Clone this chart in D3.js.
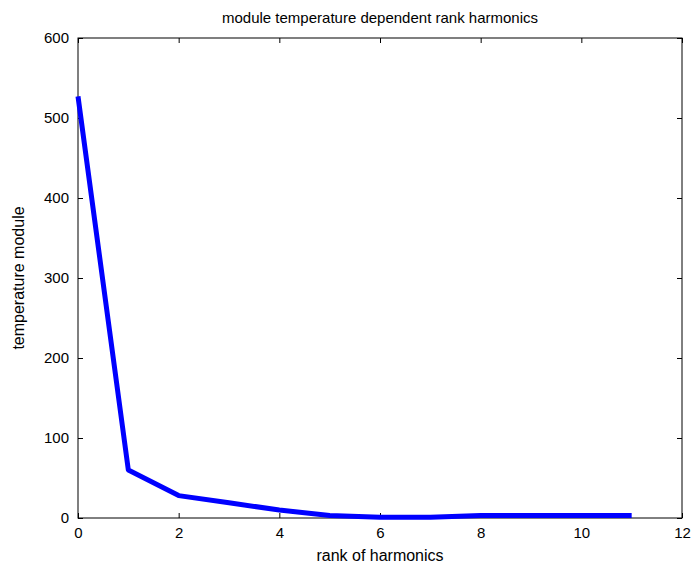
<!DOCTYPE html>
<html><head><meta charset="utf-8">
<script src="https://cdn.jsdelivr.net/npm/d3@7"></script>
<style>body{margin:0;background:#fff}text{font-family:Arial,"Liberation Sans",sans-serif}</style>
</head><body><svg id="c" width="692" height="573"></svg>
<script>
const xs=[0,1,2,3,4,5,6,7,8,9,10,11];
const ys=[527,60,28,19,10,3,1,1,3,3,3,3];
const xTicks=[0,2,4,6,8,10,12];
const yTicks=[0,100,200,300,400,500,600];
const m={l:78,r:682,t:38,b:518};
const svg=d3.select("#c");
const x=d3.scaleLinear().domain([0,12]).range([m.l,m.r]);
const y=d3.scaleLinear().domain([0,600]).range([m.b,m.t]);
svg.append("rect").attr("x",m.l).attr("y",m.t).attr("width",m.r-m.l).attr("height",m.b-m.t).attr("fill","#fff").attr("stroke","#000");
const fmt=d=>d;
const g1=svg.append("g").attr("transform",`translate(0,${m.b})`).call(d3.axisBottom(x).tickValues(xTicks).tickSize(-5).tickPadding(9).tickFormat(fmt));
const g2=svg.append("g").attr("transform",`translate(0,${m.t})`).call(d3.axisTop(x).tickValues(xTicks).tickSize(-5).tickFormat(""));
const g3=svg.append("g").attr("transform",`translate(${m.l},0)`).call(d3.axisLeft(y).tickValues(yTicks).tickSize(-5).tickPadding(9).tickFormat(fmt));
const g4=svg.append("g").attr("transform",`translate(${m.r},0)`).call(d3.axisRight(y).tickValues(yTicks).tickSize(-5).tickFormat(""));
[g1,g2,g3,g4].forEach(g=>{g.select(".domain").remove();g.selectAll("text").attr("font-size",15).attr("fill","#000");});
svg.append("path").datum(xs.map((d,i)=>[d,ys[i]])).attr("fill","none").attr("stroke","#0000ff").attr("stroke-width",5).attr("stroke-linejoin","round")
 .attr("d",d3.line().x(d=>x(d[0])).y(d=>y(d[1])));
svg.append("text").attr("x",380).attr("y",23).attr("text-anchor","middle").attr("font-size",15).text("module temperature dependent rank harmonics");
svg.append("text").attr("x",380).attr("y",561).attr("text-anchor","middle").attr("font-size",16).text("rank of harmonics");
svg.append("text").attr("transform","translate(24,278) rotate(-90)").attr("text-anchor","middle").attr("font-size",16).text("temperature module");
</script></body></html>
